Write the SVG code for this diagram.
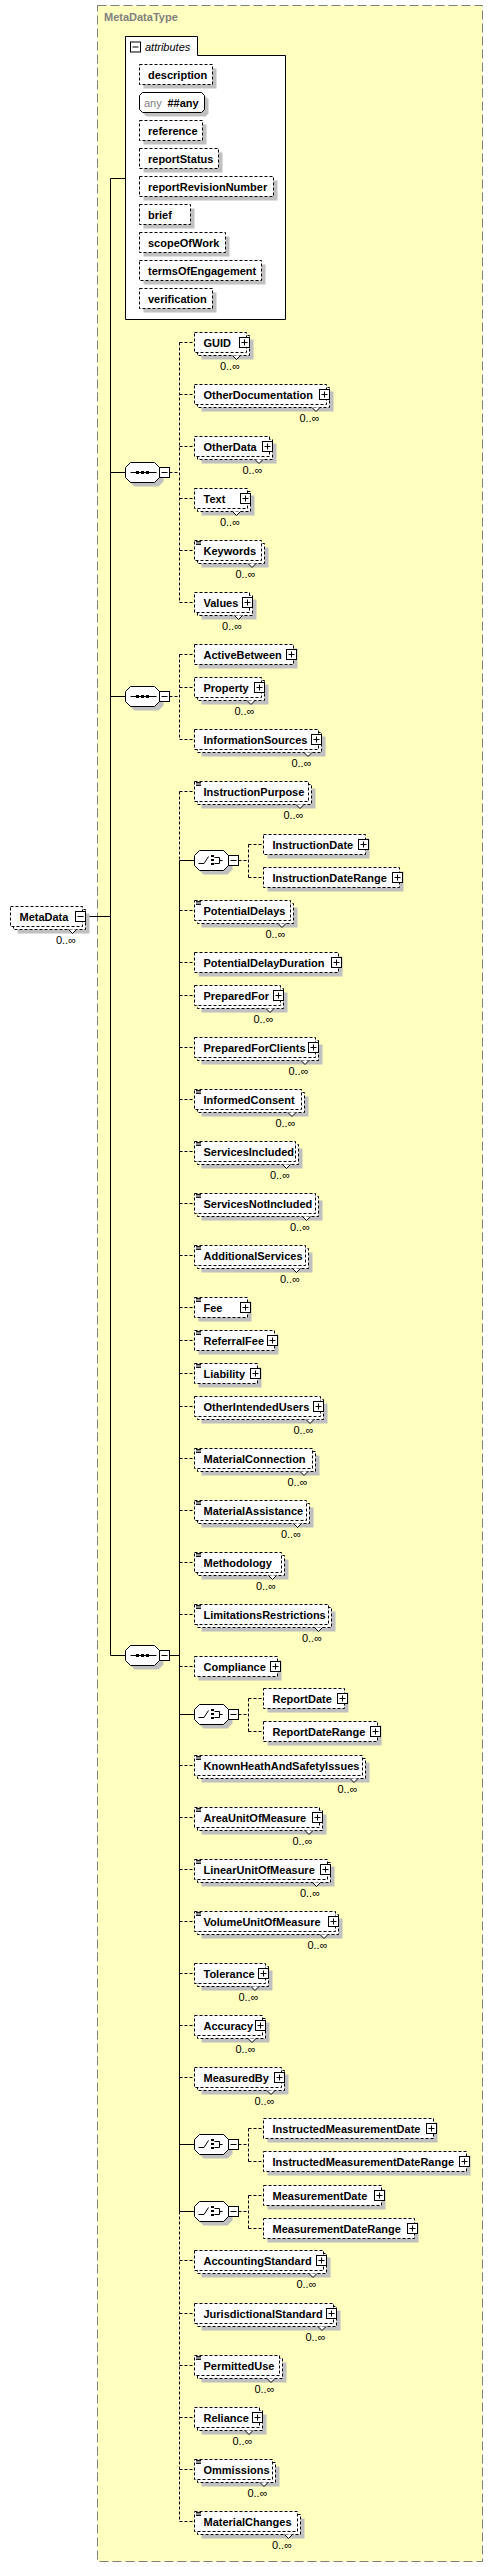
<svg xmlns="http://www.w3.org/2000/svg" xmlns:xlink="http://www.w3.org/1999/xlink" width="493" height="2567" viewBox="0 0 493 2567">
<style>
.t{font-family:"Liberation Sans",Arial,sans-serif;font-size:11px;font-weight:700;fill:#000}
.o{font-family:"Liberation Sans",Arial,sans-serif;font-size:11px;fill:#000;text-anchor:end}
.bx{fill:#fff;stroke:#000;stroke-width:1;stroke-dasharray:3 2}
.sh{fill:#c0c0c0}
.nt{fill:#fff;stroke:#000;stroke-width:1}
.s{fill:none;stroke:#000;stroke-width:1}
.d{fill:none;stroke:#000;stroke-width:1;stroke-dasharray:3 2}
</style>
<defs>
<g id="plus"><rect x="0" y="0" width="10" height="10" fill="#fff" stroke="#000"/><path d="M2,5H8M5,2V8" stroke="#000"/></g>
<g id="minus"><rect x="0" y="0" width="10" height="10" fill="#fff" stroke="#000"/><path d="M2,5H8" stroke="#000"/></g>
<g id="sm"><path d="M0,1.5H5M0,3H5M0,4.5H5" stroke="#000" stroke-width="0.9"/></g>
<path id="oct" d="M5,-10H29L34,-5V5L29,10H5L0,5V-5Z"/>
<g id="seqsym"><path d="M5,0H31" stroke="#000"/><rect x="10.5" y="-1.5" width="3" height="3"/><rect x="15.5" y="-1.5" width="3" height="3"/><rect x="20.5" y="-1.5" width="3" height="3"/></g>
<g id="chsym"><path d="M4,3H9.5L14,-4M20,-3H25V3H20M25,0H28" fill="none" stroke="#000"/><rect x="16.5" y="-5.5" width="3" height="2"/><rect x="16.5" y="-1.5" width="3" height="2"/><rect x="16.5" y="2.5" width="3" height="2"/></g>
</defs>

<g id="MetaDataType">
<rect x="97.5" y="5.5" width="385" height="2556" fill="#ffffc0" stroke="#808080" stroke-dasharray="9 4"/>
<text x="104" y="21" font-family="'Liberation Sans',Arial,sans-serif" font-size="11" font-weight="700" fill="#808080">MetaDataType</text>
</g>

<g id="attributes">
<path d="M125.5,319.5V36.5H197.5V55.5H285.5V319.5Z" fill="#fff" stroke="#000"/>
<use href="#minus" x="130.5" y="42"/>
<text x="145" y="50.5" font-family="'Liberation Sans',Arial,sans-serif" font-size="11" font-style="italic" fill="#000">attributes</text>
<g id="a-description" transform="translate(139.5,64)"><rect class="sh" x="4" y="4.5" width="73" height="20"/><rect class="bx" x="0" y="0.5" width="73" height="20"/><text class="t" x="8.5" y="14.5">description</text></g>
<g id="a-any" transform="translate(139.5,92)"><path class="sh" transform="translate(4,4)" d="M3,0.5H62L65,3.5V17.5L62,20.5H3L0,17.5V3.5Z"/><path d="M3,0.5H62L65,3.5V17.5L62,20.5H3L0,17.5V3.5Z" fill="#fff" stroke="#000"/><text x="4.5" y="14.5" font-family="'Liberation Sans',Arial,sans-serif" font-size="11" fill="#808080">any</text><text class="t" x="28" y="14.5">##any</text></g>
<g id="a-reference" transform="translate(139.5,120)"><rect class="sh" x="4" y="4.5" width="63" height="20"/><rect class="bx" x="0" y="0.5" width="63" height="20"/><text class="t" x="8.5" y="14.5">reference</text></g>
<g id="a-reportStatus" transform="translate(139.5,148)"><rect class="sh" x="4" y="4.5" width="79" height="20"/><rect class="bx" x="0" y="0.5" width="79" height="20"/><text class="t" x="8.5" y="14.5">reportStatus</text></g>
<g id="a-reportRevisionNumber" transform="translate(139.5,176)"><rect class="sh" x="4" y="4.5" width="134" height="20"/><rect class="bx" x="0" y="0.5" width="134" height="20"/><text class="t" x="8.5" y="14.5">reportRevisionNumber</text></g>
<g id="a-brief" transform="translate(139.5,204)"><rect class="sh" x="4" y="4.5" width="51" height="20"/><rect class="bx" x="0" y="0.5" width="51" height="20"/><text class="t" x="8.5" y="14.5">brief</text></g>
<g id="a-scopeOfWork" transform="translate(139.5,232)"><rect class="sh" x="4" y="4.5" width="86" height="20"/><rect class="bx" x="0" y="0.5" width="86" height="20"/><text class="t" x="8.5" y="14.5">scopeOfWork</text></g>
<g id="a-termsOfEngagement" transform="translate(139.5,260)"><rect class="sh" x="4" y="4.5" width="122" height="20"/><rect class="bx" x="0" y="0.5" width="122" height="20"/><text class="t" x="8.5" y="14.5">termsOfEngagement</text></g>
<g id="a-verification" transform="translate(139.5,288)"><rect class="sh" x="4" y="4.5" width="73" height="20"/><rect class="bx" x="0" y="0.5" width="73" height="20"/><text class="t" x="8.5" y="14.5">verification</text></g>
</g>

<g id="connectors">
<path class="s" d="M85.5,916.5H110.5M110.5,178.5V1655.5M110.5,178.5H125.5M110.5,472.5H125.5M110.5,696.5H125.5M110.5,1655.5H125.5M169.5,1655.5H179.5M179.5,860.5V2211.5M179.5,860.5H194.5M179.5,1714.5H194.5M179.5,2144.5H194.5M179.5,2211.5H194.5"/>
<path class="d" d="M169.5,472.5H179.5M179.5,342.5V602.5M179.5,342.5H194.5M179.5,394.5H194.5M179.5,446.5H194.5M179.5,498.5H194.5M179.5,550.5H194.5M179.5,602.5H194.5"/>
<path class="d" d="M169.5,696.5H179.5M179.5,654.5V739.5M179.5,654.5H194.5M179.5,687.5H194.5M179.5,739.5H194.5"/>
<path class="d" d="M179.5,791.5V860.5M179.5,2211.5V2521.5M179.5,791.5H194.5M179.5,910.5H194.5M179.5,962.5H194.5M179.5,995.5H194.5M179.5,1047.5H194.5M179.5,1099.5H194.5M179.5,1151.5H194.5M179.5,1203.5H194.5M179.5,1255.5H194.5M179.5,1307.5H194.5M179.5,1340.5H194.5M179.5,1373.5H194.5M179.5,1406.5H194.5M179.5,1458.5H194.5M179.5,1510.5H194.5M179.5,1562.5H194.5M179.5,1614.5H194.5M179.5,1666.5H194.5M179.5,1765.5H194.5M179.5,1817.5H194.5M179.5,1869.5H194.5M179.5,1921.5H194.5M179.5,1973.5H194.5M179.5,2025.5H194.5M179.5,2077.5H194.5M179.5,2260.5H194.5M179.5,2313.5H194.5M179.5,2365.5H194.5M179.5,2417.5H194.5M179.5,2469.5H194.5M179.5,2521.5H194.5"/>
<path class="d" d="M238.5,860.5H248.5M248.5,844.5V877.5M248.5,844.5H263.5M248.5,877.5H263.5"/>
<path class="d" d="M238.5,1714.5H248.5M248.5,1698.5V1731.5M248.5,1698.5H263.5M248.5,1731.5H263.5"/>
<path class="d" d="M238.5,2144.5H248.5M248.5,2128.5V2161.5M248.5,2128.5H263.5M248.5,2161.5H263.5"/>
<path class="d" d="M238.5,2211.5H248.5M248.5,2195.5V2228.5M248.5,2195.5H263.5M248.5,2228.5H263.5"/>
</g>

<g id="n-MetaData" transform="translate(10.5,906)"><rect class="sh" x="7" y="7.5" width="72" height="20"/><rect class="bx" x="3" y="3.5" width="72" height="20"/><rect class="bx" x="0" y="0.5" width="72" height="20"/><text class="t" x="9" y="14.5">MetaData</text><use href="#minus" x="65" y="5.5"/><path class="nt" d="M58,23.5l4,4l4,-4"/><text class="o" x="65.5" y="37.5">0..∞</text></g>

<g id="seq1" transform="translate(125.5,472.5)"><use href="#oct" x="4" y="4" fill="#c0c0c0"/><use href="#oct" fill="#fff" stroke="#000"/><use href="#seqsym"/><use href="#minus" x="34" y="-5"/></g>
<g id="seq2" transform="translate(125.5,696.5)"><use href="#oct" x="4" y="4" fill="#c0c0c0"/><use href="#oct" fill="#fff" stroke="#000"/><use href="#seqsym"/><use href="#minus" x="34" y="-5"/></g>
<g id="seq3" transform="translate(125.5,1655.5)"><use href="#oct" x="4" y="4" fill="#c0c0c0"/><use href="#oct" fill="#fff" stroke="#000"/><use href="#seqsym"/><use href="#minus" x="34" y="-5"/></g>
<g id="choice1" transform="translate(194.5,860.5)"><use href="#oct" x="4" y="4" fill="#c0c0c0"/><use href="#oct" fill="#fff" stroke="#000"/><use href="#chsym"/><use href="#minus" x="34" y="-5"/></g>
<g id="choice2" transform="translate(194.5,1714.5)"><use href="#oct" x="4" y="4" fill="#c0c0c0"/><use href="#oct" fill="#fff" stroke="#000"/><use href="#chsym"/><use href="#minus" x="34" y="-5"/></g>
<g id="choice3" transform="translate(194.5,2144.5)"><use href="#oct" x="4" y="4" fill="#c0c0c0"/><use href="#oct" fill="#fff" stroke="#000"/><use href="#chsym"/><use href="#minus" x="34" y="-5"/></g>
<g id="choice4" transform="translate(194.5,2211.5)"><use href="#oct" x="4" y="4" fill="#c0c0c0"/><use href="#oct" fill="#fff" stroke="#000"/><use href="#chsym"/><use href="#minus" x="34" y="-5"/></g>

<g id="n-GUID" transform="translate(194.5,332)"><rect class="sh" x="7" y="7.5" width="52" height="20"/><rect class="bx" x="3" y="3.5" width="52" height="20"/><rect class="bx" x="0" y="0.5" width="52" height="20"/><text class="t" x="9" y="14.5">GUID</text><use href="#plus" x="45" y="5.5"/><path class="nt" d="M38,23.5l4,4l4,-4"/><text class="o" x="45.5" y="37.5">0..∞</text></g>
<g id="n-OtherDocumentation" transform="translate(194.5,384)"><rect class="sh" x="7" y="7.5" width="132" height="20"/><rect class="bx" x="3" y="3.5" width="132" height="20"/><rect class="bx" x="0" y="0.5" width="132" height="20"/><text class="t" x="9" y="14.5">OtherDocumentation</text><use href="#plus" x="125" y="5.5"/><path class="nt" d="M117.5,23.5l4,4l4,-4"/><text class="o" x="125" y="37.5">0..∞</text></g>
<g id="n-OtherData" transform="translate(194.5,436)"><rect class="sh" x="7" y="7.5" width="75" height="20"/><rect class="bx" x="3" y="3.5" width="75" height="20"/><rect class="bx" x="0" y="0.5" width="75" height="20"/><text class="t" x="9" y="14.5">OtherData</text><use href="#plus" x="68" y="5.5"/><path class="nt" d="M60.5,23.5l4,4l4,-4"/><text class="o" x="68" y="37.5">0..∞</text></g>
<g id="n-Text" transform="translate(194.5,488)"><rect class="sh" x="7" y="7.5" width="53" height="20"/><rect class="bx" x="3" y="3.5" width="53" height="20"/><rect class="bx" x="0" y="0.5" width="53" height="20"/><text class="t" x="9" y="14.5">Text</text><use href="#plus" x="46" y="5.5"/><path class="nt" d="M38,23.5l4,4l4,-4"/><text class="o" x="45.5" y="37.5">0..∞</text></g>
<g id="n-Keywords" transform="translate(194.5,540)"><rect class="sh" x="7" y="7.5" width="67" height="20"/><rect class="bx" x="3" y="3.5" width="67" height="20"/><rect class="bx" x="0" y="0.5" width="67" height="20"/><use href="#sm" x="1.5" y="0"/><text class="t" x="9" y="14.5">Keywords</text><path class="nt" d="M53.5,23.5l4,4l4,-4"/><text class="o" x="61" y="37.5">0..∞</text></g>
<g id="n-Values" transform="translate(194.5,592)"><rect class="sh" x="7" y="7.5" width="55" height="20"/><rect class="bx" x="3" y="3.5" width="55" height="20"/><rect class="bx" x="0" y="0.5" width="55" height="20"/><text class="t" x="9" y="14.5">Values</text><use href="#plus" x="48" y="5.5"/><path class="nt" d="M40,23.5l4,4l4,-4"/><text class="o" x="47.5" y="37.5">0..∞</text></g>

<g id="n-ActiveBetween" transform="translate(194.5,644)"><rect class="sh" x="4" y="4.5" width="99" height="20"/><rect class="bx" x="0" y="0.5" width="99" height="20"/><text class="t" x="9" y="14.5">ActiveBetween</text><use href="#plus" x="92" y="5.5"/></g>
<g id="n-Property" transform="translate(194.5,677)"><rect class="sh" x="7" y="7.5" width="67" height="20"/><rect class="bx" x="3" y="3.5" width="67" height="20"/><rect class="bx" x="0" y="0.5" width="67" height="20"/><text class="t" x="9" y="14.5">Property</text><use href="#plus" x="60" y="5.5"/><path class="nt" d="M52.5,23.5l4,4l4,-4"/><text class="o" x="60" y="37.5">0..∞</text></g>
<g id="n-InformationSources" transform="translate(194.5,729)"><rect class="sh" x="7" y="7.5" width="124" height="20"/><rect class="bx" x="3" y="3.5" width="124" height="20"/><rect class="bx" x="0" y="0.5" width="124" height="20"/><text class="t" x="9" y="14.5">InformationSources</text><use href="#plus" x="117" y="5.5"/><path class="nt" d="M109.5,23.5l4,4l4,-4"/><text class="o" x="117" y="37.5">0..∞</text></g>

<g id="n-InstructionPurpose" transform="translate(194.5,781)"><rect class="sh" x="7" y="7.5" width="114" height="20"/><rect class="bx" x="3" y="3.5" width="114" height="20"/><rect class="bx" x="0" y="0.5" width="114" height="20"/><use href="#sm" x="1.5" y="0"/><text class="t" x="9" y="14.5">InstructionPurpose</text><path class="nt" d="M101.5,23.5l4,4l4,-4"/><text class="o" x="109" y="37.5">0..∞</text></g>
<g id="n-InstructionDate" transform="translate(263.5,834)"><rect class="sh" x="4" y="4.5" width="102" height="20"/><rect class="bx" x="0" y="0.5" width="102" height="20"/><text class="t" x="9" y="14.5">InstructionDate</text><use href="#plus" x="95" y="5.5"/></g>
<g id="n-InstructionDateRange" transform="translate(263.5,867)"><rect class="sh" x="4" y="4.5" width="136" height="20"/><rect class="bx" x="0" y="0.5" width="136" height="20"/><text class="t" x="9" y="14.5">InstructionDateRange</text><use href="#plus" x="129" y="5.5"/></g>
<g id="n-PotentialDelays" transform="translate(194.5,900)"><rect class="sh" x="7" y="7.5" width="96" height="20"/><rect class="bx" x="3" y="3.5" width="96" height="20"/><rect class="bx" x="0" y="0.5" width="96" height="20"/><use href="#sm" x="1.5" y="0"/><text class="t" x="9" y="14.5">PotentialDelays</text><path class="nt" d="M83.5,23.5l4,4l4,-4"/><text class="o" x="91" y="37.5">0..∞</text></g>
<g id="n-PotentialDelayDuration" transform="translate(194.5,952)"><rect class="sh" x="4" y="4.5" width="144" height="20"/><rect class="bx" x="0" y="0.5" width="144" height="20"/><text class="t" x="9" y="14.5">PotentialDelayDuration</text><use href="#plus" x="137" y="5.5"/></g>
<g id="n-PreparedFor" transform="translate(194.5,985)"><rect class="sh" x="7" y="7.5" width="86" height="20"/><rect class="bx" x="3" y="3.5" width="86" height="20"/><rect class="bx" x="0" y="0.5" width="86" height="20"/><text class="t" x="9" y="14.5">PreparedFor</text><use href="#plus" x="79" y="5.5"/><path class="nt" d="M71.5,23.5l4,4l4,-4"/><text class="o" x="79" y="37.5">0..∞</text></g>
<g id="n-PreparedForClients" transform="translate(194.5,1037)"><rect class="sh" x="7" y="7.5" width="121" height="20"/><rect class="bx" x="3" y="3.5" width="121" height="20"/><rect class="bx" x="0" y="0.5" width="121" height="20"/><text class="t" x="9" y="14.5">PreparedForClients</text><use href="#plus" x="114" y="5.5"/><path class="nt" d="M106.5,23.5l4,4l4,-4"/><text class="o" x="114" y="37.5">0..∞</text></g>
<g id="n-InformedConsent" transform="translate(194.5,1089)"><rect class="sh" x="7" y="7.5" width="107" height="20"/><rect class="bx" x="3" y="3.5" width="107" height="20"/><rect class="bx" x="0" y="0.5" width="107" height="20"/><use href="#sm" x="1.5" y="0"/><text class="t" x="9" y="14.5">InformedConsent</text><path class="nt" d="M93.5,23.5l4,4l4,-4"/><text class="o" x="101" y="37.5">0..∞</text></g>
<g id="n-ServicesIncluded" transform="translate(194.5,1141)"><rect class="sh" x="7" y="7.5" width="101" height="20"/><rect class="bx" x="3" y="3.5" width="101" height="20"/><rect class="bx" x="0" y="0.5" width="101" height="20"/><use href="#sm" x="1.5" y="0"/><text class="t" x="9" y="14.5">ServicesIncluded</text><path class="nt" d="M88,23.5l4,4l4,-4"/><text class="o" x="95.5" y="37.5">0..∞</text></g>
<g id="n-ServicesNotIncluded" transform="translate(194.5,1193)"><rect class="sh" x="7" y="7.5" width="121" height="20"/><rect class="bx" x="3" y="3.5" width="121" height="20"/><rect class="bx" x="0" y="0.5" width="121" height="20"/><use href="#sm" x="1.5" y="0"/><text class="t" x="9" y="14.5">ServicesNotIncluded</text><path class="nt" d="M108,23.5l4,4l4,-4"/><text class="o" x="115.5" y="37.5">0..∞</text></g>
<g id="n-AdditionalServices" transform="translate(194.5,1245)"><rect class="sh" x="7" y="7.5" width="111" height="20"/><rect class="bx" x="3" y="3.5" width="111" height="20"/><rect class="bx" x="0" y="0.5" width="111" height="20"/><use href="#sm" x="1.5" y="0"/><text class="t" x="9" y="14.5">AdditionalServices</text><path class="nt" d="M98,23.5l4,4l4,-4"/><text class="o" x="105.5" y="37.5">0..∞</text></g>
<g id="n-Fee" transform="translate(194.5,1297)"><rect class="sh" x="4" y="4.5" width="53" height="20"/><rect class="bx" x="0" y="0.5" width="53" height="20"/><use href="#sm" x="1.5" y="0"/><text class="t" x="9" y="14.5">Fee</text><use href="#plus" x="46" y="5.5"/></g>
<g id="n-ReferralFee" transform="translate(194.5,1330)"><rect class="sh" x="4" y="4.5" width="80" height="20"/><rect class="bx" x="0" y="0.5" width="80" height="20"/><use href="#sm" x="1.5" y="0"/><text class="t" x="9" y="14.5">ReferralFee</text><use href="#plus" x="73" y="5.5"/></g>
<g id="n-Liability" transform="translate(194.5,1363)"><rect class="sh" x="4" y="4.5" width="63" height="20"/><rect class="bx" x="0" y="0.5" width="63" height="20"/><use href="#sm" x="1.5" y="0"/><text class="t" x="9" y="14.5">Liability</text><use href="#plus" x="56" y="5.5"/></g>
<g id="n-OtherIntendedUsers" transform="translate(194.5,1396)"><rect class="sh" x="7" y="7.5" width="126" height="20"/><rect class="bx" x="3" y="3.5" width="126" height="20"/><rect class="bx" x="0" y="0.5" width="126" height="20"/><text class="t" x="9" y="14.5">OtherIntendedUsers</text><use href="#plus" x="119" y="5.5"/><path class="nt" d="M111.5,23.5l4,4l4,-4"/><text class="o" x="119" y="37.5">0..∞</text></g>
<g id="n-MaterialConnection" transform="translate(194.5,1448)"><rect class="sh" x="7" y="7.5" width="118" height="20"/><rect class="bx" x="3" y="3.5" width="118" height="20"/><rect class="bx" x="0" y="0.5" width="118" height="20"/><use href="#sm" x="1.5" y="0"/><text class="t" x="9" y="14.5">MaterialConnection</text><path class="nt" d="M105.5,23.5l4,4l4,-4"/><text class="o" x="113" y="37.5">0..∞</text></g>
<g id="n-MaterialAssistance" transform="translate(194.5,1500)"><rect class="sh" x="7" y="7.5" width="112" height="20"/><rect class="bx" x="3" y="3.5" width="112" height="20"/><rect class="bx" x="0" y="0.5" width="112" height="20"/><use href="#sm" x="1.5" y="0"/><text class="t" x="9" y="14.5">MaterialAssistance</text><path class="nt" d="M99,23.5l4,4l4,-4"/><text class="o" x="106.5" y="37.5">0..∞</text></g>
<g id="n-Methodology" transform="translate(194.5,1552)"><rect class="sh" x="7" y="7.5" width="87" height="20"/><rect class="bx" x="3" y="3.5" width="87" height="20"/><rect class="bx" x="0" y="0.5" width="87" height="20"/><use href="#sm" x="1.5" y="0"/><text class="t" x="9" y="14.5">Methodology</text><path class="nt" d="M74,23.5l4,4l4,-4"/><text class="o" x="81.5" y="37.5">0..∞</text></g>
<g id="n-LimitationsRestrictions" transform="translate(194.5,1604)"><rect class="sh" x="7" y="7.5" width="134" height="20"/><rect class="bx" x="3" y="3.5" width="134" height="20"/><rect class="bx" x="0" y="0.5" width="134" height="20"/><use href="#sm" x="1.5" y="0"/><text class="t" x="9" y="14.5">LimitationsRestrictions</text><path class="nt" d="M120,23.5l4,4l4,-4"/><text class="o" x="127.5" y="37.5">0..∞</text></g>
<g id="n-Compliance" transform="translate(194.5,1656)"><rect class="sh" x="4" y="4.5" width="83" height="20"/><rect class="bx" x="0" y="0.5" width="83" height="20"/><text class="t" x="9" y="14.5">Compliance</text><use href="#plus" x="76" y="5.5"/></g>
<g id="n-ReportDate" transform="translate(263.5,1688)"><rect class="sh" x="4" y="4.5" width="81" height="20"/><rect class="bx" x="0" y="0.5" width="81" height="20"/><text class="t" x="9" y="14.5">ReportDate</text><use href="#plus" x="74" y="5.5"/></g>
<g id="n-ReportDateRange" transform="translate(263.5,1721)"><rect class="sh" x="4" y="4.5" width="114" height="20"/><rect class="bx" x="0" y="0.5" width="114" height="20"/><text class="t" x="9" y="14.5">ReportDateRange</text><use href="#plus" x="107" y="5.5"/></g>
<g id="n-KnownHeathAndSafetyIssues" transform="translate(194.5,1755)"><rect class="sh" x="7" y="7.5" width="168" height="20"/><rect class="bx" x="3" y="3.5" width="168" height="20"/><rect class="bx" x="0" y="0.5" width="168" height="20"/><use href="#sm" x="1.5" y="0"/><text class="t" x="9" y="14.5">KnownHeathAndSafetyIssues</text><path class="nt" d="M155.5,23.5l4,4l4,-4"/><text class="o" x="163" y="37.5">0..∞</text></g>
<g id="n-AreaUnitOfMeasure" transform="translate(194.5,1807)"><rect class="sh" x="7" y="7.5" width="125" height="20"/><rect class="bx" x="3" y="3.5" width="125" height="20"/><rect class="bx" x="0" y="0.5" width="125" height="20"/><use href="#sm" x="1.5" y="0"/><text class="t" x="9" y="14.5">AreaUnitOfMeasure</text><use href="#plus" x="118" y="5.5"/><path class="nt" d="M110.5,23.5l4,4l4,-4"/><text class="o" x="118" y="37.5">0..∞</text></g>
<g id="n-LinearUnitOfMeasure" transform="translate(194.5,1859)"><rect class="sh" x="7" y="7.5" width="133" height="20"/><rect class="bx" x="3" y="3.5" width="133" height="20"/><rect class="bx" x="0" y="0.5" width="133" height="20"/><use href="#sm" x="1.5" y="0"/><text class="t" x="9" y="14.5">LinearUnitOfMeasure</text><use href="#plus" x="126" y="5.5"/><path class="nt" d="M118,23.5l4,4l4,-4"/><text class="o" x="125.5" y="37.5">0..∞</text></g>
<g id="n-VolumeUnitOfMeasure" transform="translate(194.5,1911)"><rect class="sh" x="7" y="7.5" width="141" height="20"/><rect class="bx" x="3" y="3.5" width="141" height="20"/><rect class="bx" x="0" y="0.5" width="141" height="20"/><use href="#sm" x="1.5" y="0"/><text class="t" x="9" y="14.5">VolumeUnitOfMeasure</text><use href="#plus" x="134" y="5.5"/><path class="nt" d="M125.5,23.5l4,4l4,-4"/><text class="o" x="133" y="37.5">0..∞</text></g>
<g id="n-Tolerance" transform="translate(194.5,1963)"><rect class="sh" x="7" y="7.5" width="71" height="20"/><rect class="bx" x="3" y="3.5" width="71" height="20"/><rect class="bx" x="0" y="0.5" width="71" height="20"/><text class="t" x="9" y="14.5">Tolerance</text><use href="#plus" x="64" y="5.5"/><path class="nt" d="M56.5,23.5l4,4l4,-4"/><text class="o" x="64" y="37.5">0..∞</text></g>
<g id="n-Accuracy" transform="translate(194.5,2015)"><rect class="sh" x="7" y="7.5" width="68" height="20"/><rect class="bx" x="3" y="3.5" width="68" height="20"/><rect class="bx" x="0" y="0.5" width="68" height="20"/><text class="t" x="9" y="14.5">Accuracy</text><use href="#plus" x="61" y="5.5"/><path class="nt" d="M53.5,23.5l4,4l4,-4"/><text class="o" x="61" y="37.5">0..∞</text></g>
<g id="n-MeasuredBy" transform="translate(194.5,2067)"><rect class="sh" x="7" y="7.5" width="87" height="20"/><rect class="bx" x="3" y="3.5" width="87" height="20"/><rect class="bx" x="0" y="0.5" width="87" height="20"/><text class="t" x="9" y="14.5">MeasuredBy</text><use href="#plus" x="80" y="5.5"/><path class="nt" d="M72.5,23.5l4,4l4,-4"/><text class="o" x="80" y="37.5">0..∞</text></g>
<g id="n-InstructedMeasurementDate" transform="translate(263.5,2118)"><rect class="sh" x="4" y="4.5" width="170" height="20"/><rect class="bx" x="0" y="0.5" width="170" height="20"/><text class="t" x="9" y="14.5">InstructedMeasurementDate</text><use href="#plus" x="163" y="5.5"/></g>
<g id="n-InstructedMeasurementDateRange" transform="translate(263.5,2151)"><rect class="sh" x="4" y="4.5" width="203" height="20"/><rect class="bx" x="0" y="0.5" width="203" height="20"/><text class="t" x="9" y="14.5">InstructedMeasurementDateRange</text><use href="#plus" x="196" y="5.5"/></g>
<g id="n-MeasurementDate" transform="translate(263.5,2185)"><rect class="sh" x="4" y="4.5" width="118" height="20"/><rect class="bx" x="0" y="0.5" width="118" height="20"/><text class="t" x="9" y="14.5">MeasurementDate</text><use href="#plus" x="111" y="5.5"/></g>
<g id="n-MeasurementDateRange" transform="translate(263.5,2218)"><rect class="sh" x="4" y="4.5" width="151" height="20"/><rect class="bx" x="0" y="0.5" width="151" height="20"/><text class="t" x="9" y="14.5">MeasurementDateRange</text><use href="#plus" x="144" y="5.5"/></g>
<g id="n-AccountingStandard" transform="translate(194.5,2250)"><rect class="sh" x="7" y="7.5" width="129" height="20"/><rect class="bx" x="3" y="3.5" width="129" height="20"/><rect class="bx" x="0" y="0.5" width="129" height="20"/><text class="t" x="9" y="14.5">AccountingStandard</text><use href="#plus" x="122" y="5.5"/><path class="nt" d="M114.5,23.5l4,4l4,-4"/><text class="o" x="122" y="37.5">0..∞</text></g>
<g id="n-JurisdictionalStandard" transform="translate(194.5,2303)"><rect class="sh" x="7" y="7.5" width="139" height="20"/><rect class="bx" x="3" y="3.5" width="139" height="20"/><rect class="bx" x="0" y="0.5" width="139" height="20"/><text class="t" x="9" y="14.5">JurisdictionalStandard</text><use href="#plus" x="132" y="5.5"/><path class="nt" d="M123.5,23.5l4,4l4,-4"/><text class="o" x="131" y="37.5">0..∞</text></g>
<g id="n-PermittedUse" transform="translate(194.5,2355)"><rect class="sh" x="7" y="7.5" width="85" height="20"/><rect class="bx" x="3" y="3.5" width="85" height="20"/><rect class="bx" x="0" y="0.5" width="85" height="20"/><use href="#sm" x="1.5" y="0"/><text class="t" x="9" y="14.5">PermittedUse</text><path class="nt" d="M72.5,23.5l4,4l4,-4"/><text class="o" x="80" y="37.5">0..∞</text></g>
<g id="n-Reliance" transform="translate(194.5,2407)"><rect class="sh" x="7" y="7.5" width="65" height="20"/><rect class="bx" x="3" y="3.5" width="65" height="20"/><rect class="bx" x="0" y="0.5" width="65" height="20"/><text class="t" x="9" y="14.5">Reliance</text><use href="#plus" x="58" y="5.5"/><path class="nt" d="M50.5,23.5l4,4l4,-4"/><text class="o" x="58" y="37.5">0..∞</text></g>
<g id="n-Ommissions" transform="translate(194.5,2459)"><rect class="sh" x="7" y="7.5" width="78" height="20"/><rect class="bx" x="3" y="3.5" width="78" height="20"/><rect class="bx" x="0" y="0.5" width="78" height="20"/><use href="#sm" x="1.5" y="0"/><text class="t" x="9" y="14.5">Ommissions</text><path class="nt" d="M65.5,23.5l4,4l4,-4"/><text class="o" x="73" y="37.5">0..∞</text></g>
<g id="n-MaterialChanges" transform="translate(194.5,2511)"><rect class="sh" x="7" y="7.5" width="103" height="20"/><rect class="bx" x="3" y="3.5" width="103" height="20"/><rect class="bx" x="0" y="0.5" width="103" height="20"/><use href="#sm" x="1.5" y="0"/><text class="t" x="9" y="14.5">MaterialChanges</text><path class="nt" d="M90,23.5l4,4l4,-4"/><text class="o" x="97.5" y="37.5">0..∞</text></g>
</svg>
